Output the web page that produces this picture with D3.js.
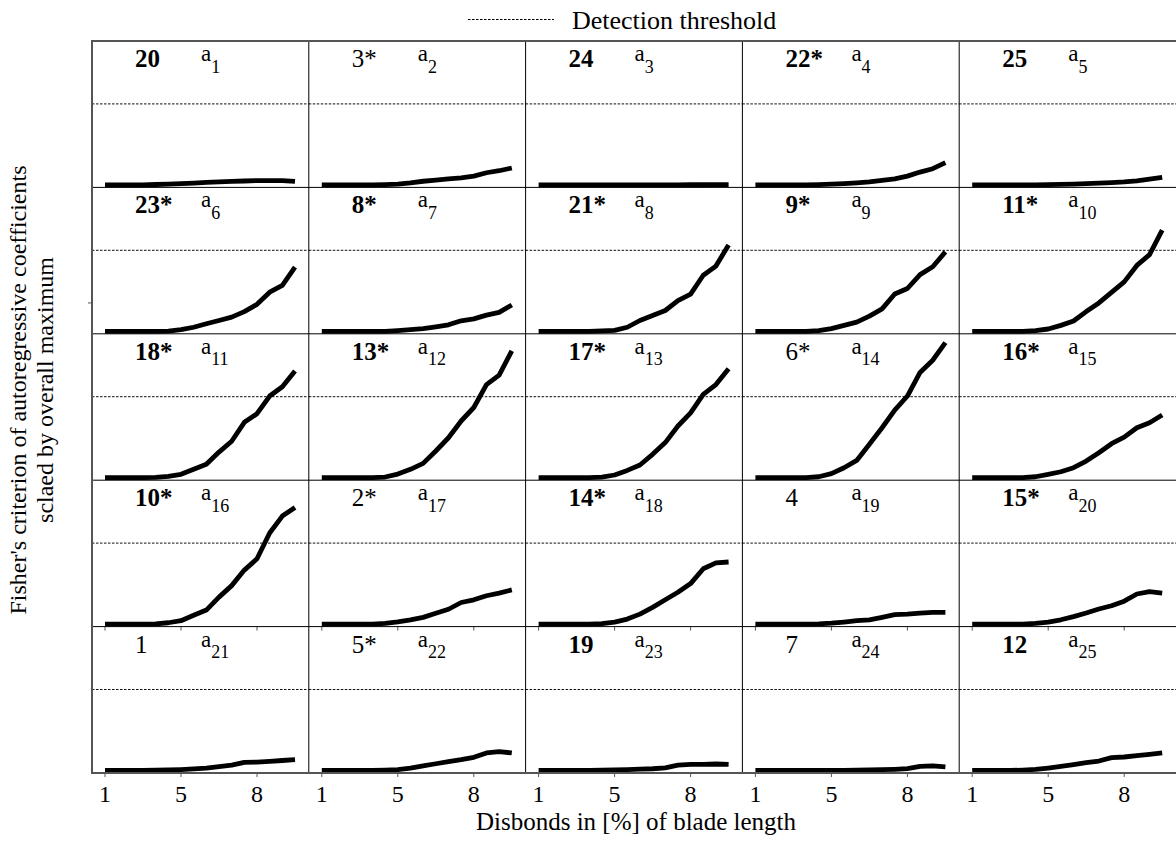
<!DOCTYPE html>
<html>
<head>
<meta charset="utf-8">
<script src="https://cdn.jsdelivr.net/npm/d3@7"></script>
<style>
  body { margin: 0; background: #fff; }
</style>
</head>
<body>
<svg id="chart" width="1176" height="842"></svg>
<script>
(function (d3) {
  'use strict'
  // data
  // 16 disbond steps per panel, only three of them are labelled on the axis
  const xTickIdx = [0, 6, 12]
  const xTickLabels = ['1', '5', '8']
  const threshold = 0.6

  const rankLabels = ['20', '3*', '24', '22*', '25',
    '23*', '8*', '21*', '9*', '11*',
    '18*', '13*', '17*', '6*', '16*',
    '10*', '2*', '14*', '4', '15*',
    '1', '5*', '19', '7', '12']
  const rankBold = [1, 0, 1, 1, 1,
    1, 1, 1, 1, 1,
    1, 1, 1, 0, 1,
    1, 0, 1, 0, 1,
    0, 0, 1, 0, 1]

  const a1 = [0, 0, 0, 0, 0.003, 0.006, 0.01, 0.013, 0.018, 0.022, 0.026, 0.029, 0.032, 0.032, 0.031, 0.026]
  const a2 = [0, 0, 0, 0, 0, 0.002, 0.006, 0.015, 0.027, 0.035, 0.045, 0.052, 0.065, 0.09, 0.105, 0.125]
  const a3 = [0, 0, 0, 0, 0, 0, 0, 0, 0, 0, 0, 0, 0.001, 0.001, 0.002, 0.002]
  const a4 = [0, 0, 0, 0, 0, 0.002, 0.005, 0.01, 0.015, 0.022, 0.033, 0.045, 0.065, 0.095, 0.12, 0.165]
  const a5 = [0, 0, 0, 0, 0, 0, 0.002, 0.004, 0.006, 0.01, 0.013, 0.017, 0.022, 0.03, 0.042, 0.055]
  const a6 = [0, 0, 0, 0, 0, 0.002, 0.012, 0.03, 0.056, 0.08, 0.105, 0.146, 0.2, 0.29, 0.34, 0.475]
  const a7 = [0, 0, 0, 0, 0, 0, 0.005, 0.012, 0.02, 0.033, 0.048, 0.078, 0.092, 0.12, 0.14, 0.195]
  const a8 = [0, 0, 0, 0, 0, 0.003, 0.007, 0.03, 0.08, 0.117, 0.154, 0.227, 0.276, 0.415, 0.483, 0.64]
  const a9 = [0, 0, 0, 0, 0, 0.005, 0.02, 0.044, 0.068, 0.112, 0.166, 0.276, 0.317, 0.42, 0.478, 0.588]
  const a10 = [0, 0, 0, 0, 0, 0.005, 0.017, 0.044, 0.076, 0.146, 0.21, 0.288, 0.366, 0.488, 0.568, 0.75]
  const a11 = [0, 0, 0, 0, 0.002, 0.01, 0.025, 0.062, 0.099, 0.19, 0.27, 0.41, 0.474, 0.605, 0.674, 0.79]
  const a12 = [0, 0, 0, 0, 0, 0.005, 0.027, 0.062, 0.106, 0.198, 0.296, 0.42, 0.52, 0.69, 0.76, 0.94]
  const a13 = [0, 0, 0, 0, 0, 0.005, 0.02, 0.054, 0.094, 0.173, 0.26, 0.383, 0.48, 0.617, 0.69, 0.807]
  const a14 = [0, 0, 0, 0, 0, 0.007, 0.03, 0.074, 0.128, 0.247, 0.37, 0.5, 0.605, 0.78, 0.87, 1.0]
  const a15 = [0, 0, 0, 0, 0, 0.007, 0.025, 0.044, 0.074, 0.123, 0.185, 0.252, 0.3, 0.37, 0.407, 0.464]
  const a16 = [0, 0, 0, 0, 0.002, 0.01, 0.025, 0.065, 0.104, 0.2, 0.285, 0.4, 0.484, 0.675, 0.8, 0.864]
  const a17 = [0, 0, 0, 0, 0, 0.005, 0.017, 0.032, 0.05, 0.08, 0.11, 0.16, 0.18, 0.21, 0.23, 0.253]
  const a18 = [0, 0, 0, 0, 0, 0.003, 0.015, 0.037, 0.074, 0.124, 0.18, 0.236, 0.3, 0.41, 0.454, 0.46]
  const a19 = [0, 0, 0, 0, 0, 0.002, 0.007, 0.015, 0.025, 0.032, 0.05, 0.07, 0.074, 0.082, 0.087, 0.087]
  const a20 = [0, 0, 0, 0, 0, 0.005, 0.015, 0.032, 0.055, 0.082, 0.112, 0.136, 0.17, 0.223, 0.24, 0.23]
  const a21 = [0, 0, 0, 0, 0.002, 0.004, 0.007, 0.012, 0.018, 0.028, 0.04, 0.06, 0.062, 0.068, 0.074, 0.08]
  const a22 = [0, 0, 0, 0, 0, 0.002, 0.006, 0.018, 0.035, 0.05, 0.065, 0.08, 0.098, 0.13, 0.14, 0.13]
  const a23 = [0, 0, 0, 0, 0, 0.002, 0.004, 0.007, 0.01, 0.013, 0.02, 0.04, 0.045, 0.046, 0.048, 0.045]
  const a24 = [0, 0, 0, 0, 0, 0, 0, 0, 0.002, 0.004, 0.006, 0.009, 0.014, 0.03, 0.035, 0.027]
  const a25 = [0, 0, 0, 0, 0.003, 0.008, 0.018, 0.03, 0.044, 0.058, 0.07, 0.095, 0.1, 0.11, 0.12, 0.13]

  const series = [a1, a2, a3, a4, a5, a6, a7, a8, a9, a10, a11, a12, a13,
    a14, a15, a16, a17, a18, a19, a20, a21, a22, a23, a24, a25]

  const FONT = '"Liberation Serif"'

  // layout
  const GRID = { left: 92, top: 41, width: 1084, height: 732 }
  const COLS = 5
  const ROWS = 5
  const PW = GRID.width / COLS
  const PH = GRID.height / ROWS

  const x = d3.scaleLinear().domain([0, 15]).range([13, 203])
  const y = d3.scaleLinear().domain([0, 1]).range([PH - 2.5, PH - 2.5 - 135])

  const line = d3.line()
    .x((d, i) => x(i))
    .y(d => y(d))

  const svg = d3.select('#chart')

  // legend
  const legend = svg.append('g')
  legend.append('line')
    .attr('x1', 468).attr('x2', 554)
    .attr('y1', 19.5).attr('y2', 19.5)
    .attr('stroke', '#000')
    .attr('stroke-width', 1)
    .attr('stroke-dasharray', '2.5,1.5')
  legend.append('text')
    .attr('x', 572).attr('y', 29)
    .style('font-family', FONT)
    .attr('font-size', 26)
    .text('Detection threshold')

  // panels
  const grid = svg.append('g').attr('transform', `translate(${GRID.left},${GRID.top})`)

  const panels = grid.selectAll('g.panel')
    .data(series)
    .enter()
    .append('g')
    .attr('class', 'panel')
    .attr('transform', (d, i) => `translate(${(i % COLS) * PW},${Math.floor(i / COLS) * PH})`)

  panels.append('line')
    .attr('x1', 0).attr('x2', PW)
    .attr('y1', y(threshold)).attr('y2', y(threshold))
    .attr('stroke', '#111')
    .attr('stroke-width', 1)
    .attr('stroke-dasharray', '2.5,1.5')

  // inner dividers
  d3.range(1, COLS).forEach(c => {
    grid.append('line')
      .attr('x1', c * PW).attr('x2', c * PW)
      .attr('y1', 0).attr('y2', GRID.height)
      .attr('stroke', '#000').attr('stroke-width', 1)
  })
  d3.range(1, ROWS).forEach(r => {
    grid.append('line')
      .attr('x1', 0).attr('x2', GRID.width)
      .attr('y1', r * PH).attr('y2', r * PH)
      .attr('stroke', '#000').attr('stroke-width', 1)
  })

  // outer frame
  grid.append('path')
    .attr('d', `M${GRID.width},0H0V${GRID.height}H${GRID.width}`)
    .attr('fill', 'none')
    .attr('stroke', '#555')
    .attr('stroke-width', 2)

  // small x ticks under the bottom two rows
  panels.filter((d, i) => i >= COLS * (ROWS - 2))
    .each(function () {
      d3.select(this).selectAll('line.tick')
        .data(xTickIdx)
        .enter()
        .append('line')
        .attr('class', 'tick')
        .attr('x1', d => x(d)).attr('x2', d => x(d))
        .attr('y1', PH).attr('y2', PH + 4)
        .attr('stroke', '#555')
        .attr('stroke-width', 1)
    })

  // stray left tick of the original
  grid.append('line')
    .attr('x1', -4).attr('x2', 0)
    .attr('y1', PH + y(0.21)).attr('y2', PH + y(0.21))
    .attr('stroke', '#555').attr('stroke-width', 1)

  panels.append('path')
    .attr('d', line)
    .attr('fill', 'none')
    .attr('stroke', '#000')
    .attr('stroke-width', 4.8)
    .attr('stroke-linejoin', 'round')

  // panel labels
  panels.append('text')
    .attr('x', 43).attr('y', 26)
    .style('font-family', FONT)
    .attr('font-size', 25)
    .attr('font-weight', (d, i) => rankBold[i] ? 'bold' : 'normal')
    .text((d, i) => rankLabels[i])

  const coef = panels.append('text')
    .attr('x', 109).attr('y', 20)
    .style('font-family', FONT)
    .attr('font-size', 23)
  coef.append('tspan').text('a')
  coef.append('tspan')
    .attr('dy', 11.5)
    .attr('font-size', 18)
    .text((d, i) => i + 1)

  // x tick labels
  const axisG = grid.append('g').attr('transform', `translate(0,${GRID.height})`)
  d3.range(COLS).forEach(c => {
    axisG.selectAll(null)
      .data(xTickIdx)
      .enter()
      .append('text')
      .attr('x', (d, j) => c * PW + x(d))
      .attr('y', 29)
      .attr('text-anchor', 'middle')
      .style('font-family', FONT)
      .attr('font-size', 24)
      .text((d, j) => xTickLabels[j])
  })

  // axis titles
  svg.append('text')
    .attr('x', 636).attr('y', 830)
    .attr('text-anchor', 'middle')
    .style('font-family', FONT)
    .attr('font-size', 25)
    .text('Disbonds in [%] of blade length')

  const yTitle = svg.append('text')
    .attr('transform', 'translate(0,390) rotate(-90)')
    .attr('text-anchor', 'middle')
    .style('font-family', FONT)
    .attr('font-size', 24)
  yTitle.append('tspan').attr('x', 0).attr('y', 26)
    .text("Fisher's criterion of autoregressive coefficients")
  yTitle.append('tspan').attr('x', 0).attr('y', 53)
    .text('sclaed by overall maximum')

}(d3))
</script>
</body>
</html>
